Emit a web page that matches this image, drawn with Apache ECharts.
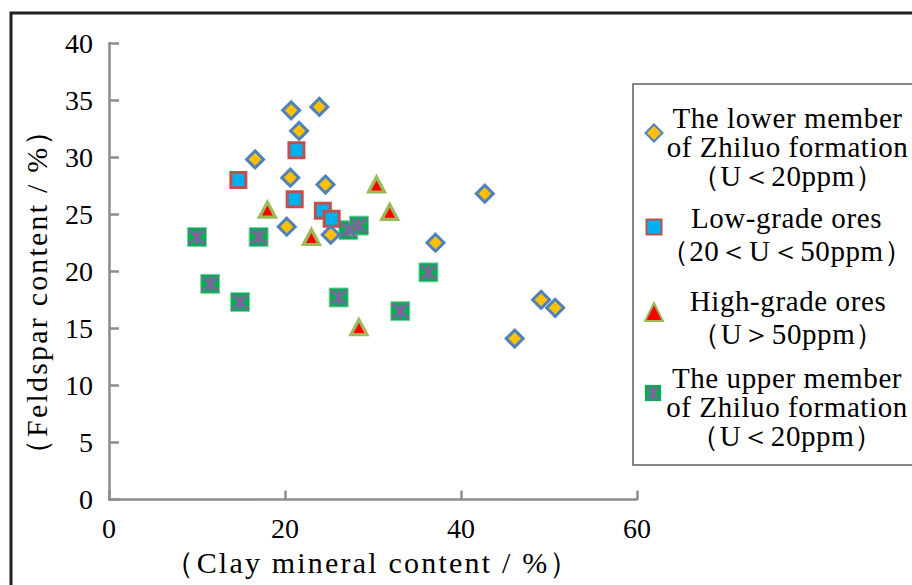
<!DOCTYPE html>
<html>
<head>
<meta charset="utf-8">
<style>
  html, body { margin: 0; padding: 0; background: #fff; }
  #chart { width: 912px; height: 585px; }
  /* journal-style tracking: axis titles (30px) and legend captions (29px) */
  #chart svg text[style*="30px"] { letter-spacing: 2.2px; }
  #chart svg text[style*="29px"] { letter-spacing: 0.6px; }
</style>
<script src="https://cdn.jsdelivr.net/npm/echarts@6/dist/echarts.min.js"></script>
</head>
<body>
<div id="chart"></div>
<script>
// Clay mineral content (x, %) vs feldspar content (y, %) per sample group
const lowerMemberX = [20.7, 23.9, 21.6, 16.6, 20.6, 24.6, 42.7, 20.2, 25.2, 37.1, 49.1, 50.7, 46.1];
const lowerMemberY = [34.1, 34.4, 32.3, 29.8, 28.2, 27.6, 26.8, 23.9, 23.2, 22.5, 17.5, 16.8, 14.1];

const lowGradeX = [21.3, 14.7, 21.1, 24.3, 25.3];
const lowGradeY = [30.6, 28.0, 26.3, 25.3, 24.6];

const highGradeX = [18.0, 23.0, 30.4, 31.9, 28.4];
const highGradeY = [25.4, 23.0, 27.6, 25.2, 15.1];

const upperMemberX = [10.0, 17.0, 27.2, 28.4, 36.3, 11.5, 14.9, 26.1, 33.1];
const upperMemberY = [23.0, 23.0, 23.6, 24.0, 19.9, 18.9, 17.3, 17.7, 16.5];

const xTicks = [0, 20, 40, 60];
const yTicks = [0, 5, 10, 15, 20, 25, 30, 35, 40];

const seriesNames = [
  'The lower member of Zhiluo formation (U<20ppm)',
  'Low-grade ores (20<U<50ppm)',
  'High-grade ores (U>50ppm)',
  'The upper member of Zhiluo formation (U<20ppm)'
];
const legendLines = [
  ['The lower member', 'of Zhiluo formation', '（U＜20ppm）'],
  ['Low-grade ores', '（20＜U＜50ppm）'],
  ['High-grade ores', '（U＞50ppm）'],
  ['The upper member', 'of Zhiluo formation', '（U＜20ppm）']
];

const pairs = (xs, ys) => xs.map((x, i) => [x, ys[i]]);
const SERIF = '"Liberation Serif", "Times New Roman", "Noto Serif", serif';

const upperIconSvg =
  "<svg xmlns='http://www.w3.org/2000/svg' width='20' height='20'>" +
  "<rect x='1' y='1' width='18' height='18' fill='#00B050'/>" +
  "<path d='M3.5,3.5L16.5,16.5M16.5,3.5L3.5,16.5M10,1.5L10,18.5' stroke='#8064A2' stroke-width='2.6' fill='none'/>" +
  "</svg>";
const upperIcon = 'image://data:image/svg+xml;charset=utf-8,' + encodeURIComponent(upperIconSvg);

function legendItem(idx, top, lineHeight, padTop, icon, size) {
  return {
    data: [seriesNames[idx]],
    left: 653 - size / 2,
    top: top,
    padding: 0,
    icon: icon,
    itemWidth: size,
    itemHeight: size,
    selectedMode: false,
    formatter: () => legendLines[idx].map(l => '{t|' + l + '}').join('\n'),
    textStyle: {
      padding: [padTop, 0, 0, 0],
      rich: {
        t: {
          width: 240,
          align: 'center',
          fontFamily: SERIF,
          fontSize: 29,
          lineHeight: lineHeight,
          color: '#000'
        }
      }
    }
  };
}

const chart = echarts.init(document.getElementById('chart'), null, { renderer: 'svg' });

chart.setOption({
  animation: false,
  backgroundColor: '#fff',
  grid: { left: 109, top: 43, width: 528, height: 456.5, containLabel: false },
  xAxis: {
    type: 'value',
    min: xTicks[0],
    max: xTicks[xTicks.length - 1],
    interval: xTicks[1] - xTicks[0],
    name: '（Clay mineral content / %）',
    nameLocation: 'middle',
    nameGap: 47,
    nameTextStyle: { fontFamily: SERIF, fontSize: 30, color: '#000' },
    axisLine: { lineStyle: { color: '#8c8c8c', width: 2.5 } },
    axisTick: { inside: true, length: 9, lineStyle: { color: '#8c8c8c', width: 2.5 } },
    axisLabel: { margin: 15, fontFamily: SERIF, fontSize: 28, color: '#000' },
    splitLine: { show: false }
  },
  yAxis: {
    type: 'value',
    min: yTicks[0],
    max: yTicks[yTicks.length - 1],
    interval: yTicks[1] - yTicks[0],
    name: '（Feldspar content / %）',
    nameLocation: 'middle',
    nameRotate: 90,
    nameGap: 58,
    nameTextStyle: { fontFamily: SERIF, fontSize: 30, color: '#000', padding: [0, 40, 0, 0] },
    axisLine: { lineStyle: { color: '#8c8c8c', width: 2.5 } },
    axisTick: { inside: true, length: 10, lineStyle: { color: '#8c8c8c', width: 2.5 } },
    axisLabel: { margin: 16, fontFamily: SERIF, fontSize: 28, color: '#000' },
    splitLine: { show: false }
  },
  legend: [
    legendItem(0, 103.5, 29, 28, 'diamond', 17),
    legendItem(1, 203.5, 33, 15, 'rect', 15),
    legendItem(2, 286.5, 33, 11, 'triangle', 18),
    legendItem(3, 363.5, 29, 28, upperIcon, 18)
  ],
  graphic: [
    // outer frame (left and top edges)
    { type: 'polyline', shape: { points: [[11, 585], [11, 13], [912, 13]] },
      style: { stroke: '#231f20', lineWidth: 3, fill: null }, silent: true },
    // legend frame
    { type: 'rect', shape: { x: 633, y: 84, width: 300, height: 381 },
      style: { stroke: '#5f5f5f', lineWidth: 1.5, fill: null }, silent: true, z: -1 }
  ],
  series: [
    {
      name: seriesNames[3],
      type: 'scatter',
      symbol: 'rect',
      symbolSize: 19,
      data: pairs(upperMemberX, upperMemberY),
      itemStyle: { color: '#00B050', borderColor: '#7fd3a3', borderWidth: 1, opacity: 1 },
      emphasis: { disabled: true },
      z: 2
    },
    {
      name: 'upper-cross',
      type: 'scatter',
      symbol: 'path://M0,0L10,10M10,0L0,10M5,-0.6L5,10.6',
      symbolSize: 16,
      data: pairs(upperMemberX, upperMemberY),
      itemStyle: { color: 'rgba(0,0,0,0)', borderColor: '#8064A2', borderWidth: 2.8, opacity: 1 },
      emphasis: { disabled: true },
      z: 3
    },
    {
      name: seriesNames[1],
      type: 'scatter',
      symbol: 'rect',
      symbolSize: 15,
      data: pairs(lowGradeX, lowGradeY),
      itemStyle: { color: '#00B0F0', borderColor: '#C0504D', borderWidth: 3, opacity: 1 },
      emphasis: { disabled: true },
      z: 4
    },
    {
      name: seriesNames[2],
      type: 'scatter',
      symbol: 'triangle',
      symbolSize: [16, 15],
      data: pairs(highGradeX, highGradeY),
      itemStyle: { color: '#FF0000', borderColor: '#9BBB59', borderWidth: 3.2, opacity: 1 },
      emphasis: { disabled: true },
      z: 5
    },
    {
      name: seriesNames[0],
      type: 'scatter',
      symbol: 'diamond',
      symbolSize: 17,
      data: pairs(lowerMemberX, lowerMemberY),
      itemStyle: { color: '#FFC000', borderColor: '#4F81BD', borderWidth: 3, opacity: 1 },
      emphasis: { disabled: true },
      z: 6
    }
  ]
});
</script>
</body>
</html>
